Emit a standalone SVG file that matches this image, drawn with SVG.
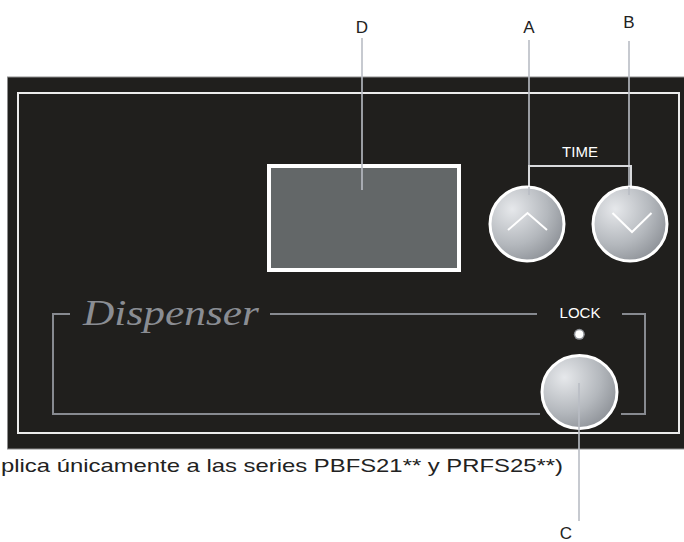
<svg xmlns="http://www.w3.org/2000/svg" width="684" height="542" viewBox="0 0 684 542">
<defs>
<radialGradient id="btn" cx="0.3" cy="0.3" r="0.8">
<stop offset="0" stop-color="#e6e8eb"/>
<stop offset="0.6" stop-color="#b4b8bd"/>
<stop offset="1" stop-color="#8c9096"/>
</radialGradient>
<style>
.lbl{font-family:"Liberation Sans",Arial,sans-serif;font-size:17px;fill:#222;}
.lead{stroke:#b9bdc5;stroke-width:1.6;fill:none;}
.brk{stroke:#878a90;stroke-width:2;fill:none;}
.btn{fill:url(#btn);stroke:#ffffff;stroke-width:3;}
.chev{stroke:#ffffff;stroke-width:2;fill:none;}
.wt{font-family:"Liberation Sans",Arial,sans-serif;fill:#ffffff;}
</style>
</defs>
<rect width="684" height="542" fill="#ffffff"/>
<g id="panel">
<rect x="7.5" y="77" width="680" height="372" fill="#201f1d" stroke="#8d8d8d" stroke-width="1"/>
<rect x="18" y="93" width="661" height="340" fill="none" stroke="#ececec" stroke-width="2"/>
</g>
<g id="dispenser-frame">
<polyline class="brk" points="70,314 53,314 53,414 540,414"/>
<polyline class="brk" points="622,314 645,314 645,414 621,414"/>
<line class="brk" x1="270" y1="314" x2="537" y2="314"/>
<text x="83" y="325" font-family="Liberation Serif,serif" font-style="italic" font-size="35" fill="#8a8d93" textLength="176" lengthAdjust="spacingAndGlyphs">Dispenser</text>
<text class="wt" x="580" y="318" font-size="15" text-anchor="middle">LOCK</text>
</g>
<g id="connectors">
<line class="lead" x1="362" y1="38" x2="362" y2="190"/>
<line class="lead" x1="529" y1="40" x2="529" y2="195"/>
<line class="lead" x1="629" y1="41" x2="629" y2="195"/>
<line class="lead" x1="579" y1="383" x2="579" y2="521"/>
</g>
<g id="D">
<rect x="269" y="166" width="190" height="104" fill="#636768" stroke="#ffffff" stroke-width="4"/>
<line class="lead" x1="362" y1="164" x2="362" y2="190"/>
<text class="lbl" x="362" y="33" text-anchor="middle">D</text>
</g>
<g id="time">
<text class="wt" x="580" y="157" font-size="15" text-anchor="middle">TIME</text>
<polyline points="529,190 529,166 631,166 631,190" fill="none" stroke="#d8dadd" stroke-width="2"/>
</g>
<g id="A">
<circle class="btn" cx="527" cy="224" r="37"/>
<polyline class="chev" points="508,230 527.5,213 547,230"/>
<line class="lead" x1="529" y1="187" x2="529" y2="195"/>
<text class="lbl" x="529" y="33" text-anchor="middle">A</text>
</g>
<g id="B">
<circle class="btn" cx="630" cy="224" r="37"/>
<polyline class="chev" points="612.5,213 632,232 651.5,213"/>
<line class="lead" x1="629" y1="187" x2="629" y2="195"/>
<text class="lbl" x="629" y="28" text-anchor="middle">B</text>
</g>
<g id="led">
<circle cx="579.3" cy="334.3" r="5.5" fill="#8d9096"/>
<circle cx="579.3" cy="334.3" r="4" fill="#ffffff"/>
</g>
<g id="C">
<ellipse class="btn" cx="579.5" cy="392" rx="37.5" ry="36.5"/>
<line class="lead" x1="579" y1="383" x2="579" y2="430"/>
<text class="lbl" x="566" y="539" text-anchor="middle">C</text>
</g>
<text x="1" y="472" font-family="Liberation Sans,Arial,sans-serif" font-size="18.5" fill="#222" textLength="562" lengthAdjust="spacingAndGlyphs">plica únicamente a las series PBFS21** y PRFS25**)</text>
</svg>
